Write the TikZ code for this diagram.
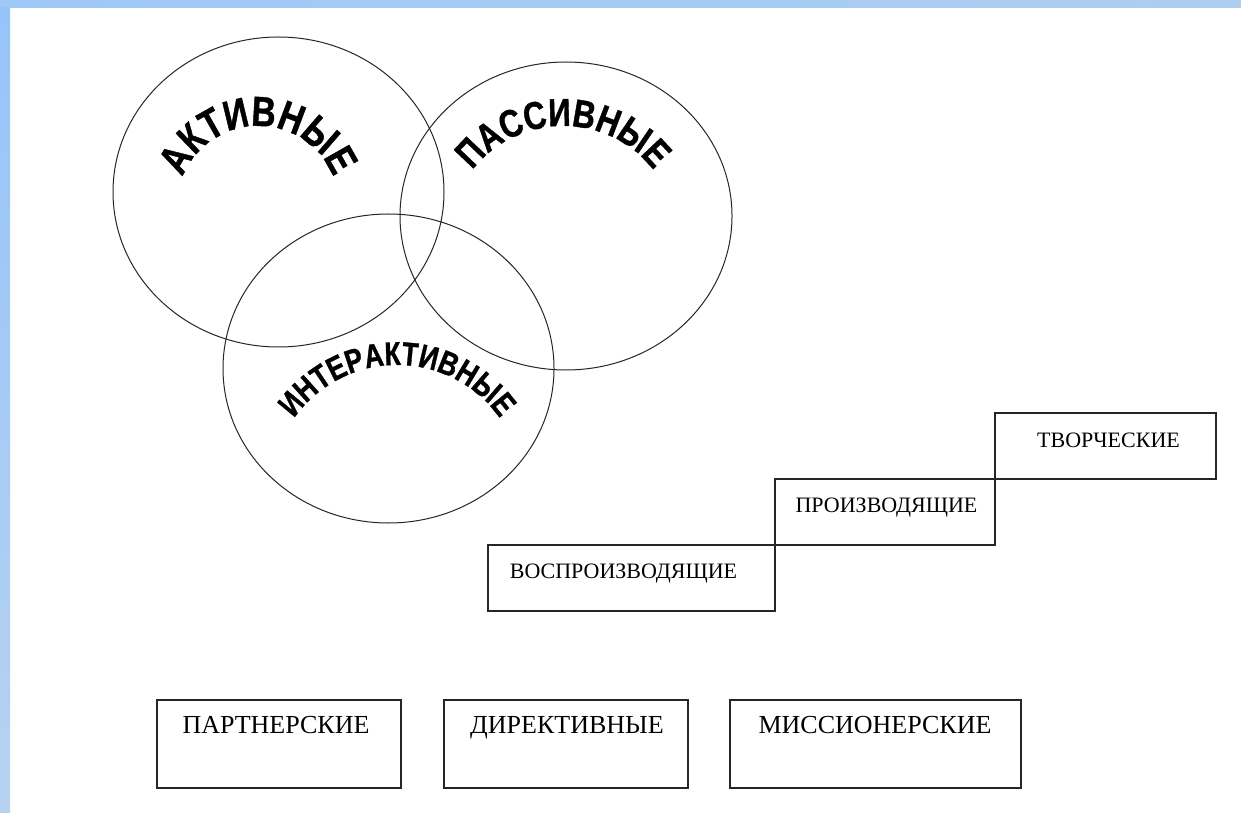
\documentclass[tikz,border=0pt]{standalone}
\usepackage{fontspec}
\setmainfont{Liberation Serif}
\newfontfamily\wordart[FakeStretch=0.8, BoldFeatures={FakeBold=1.0}]{Liberation Sans}
\usetikzlibrary{decorations.text,shapes.geometric}
\definecolor{bandL}{RGB}{158,200,247}
\definecolor{bandM}{RGB}{126,188,252}
\definecolor{bandR}{RGB}{172,206,240}
\definecolor{sideT}{RGB}{150,196,250}
\definecolor{sideB}{RGB}{182,210,240}
\begin{document}
\begin{tikzpicture}[x=1pt,y=1pt,
  ring/.style={ellipse, draw=black!85, line width=1pt, inner sep=0pt},
  box/.style={rectangle, draw=black!85, line width=1.3pt, inner sep=0pt},
  lbl/.style={font=\fontsize{22}{24}\selectfont, anchor=base, inner sep=0pt},
  blbl/.style={font=\fontsize{26}{28}\selectfont, anchor=base, inner sep=0pt}]
\useasboundingbox (0,0) rectangle (1241,812);
\fill[white] (0,0) rectangle (1241,812);
\shade[left color=bandL, middle color=bandM, right color=bandR] (0,804) rectangle (1241,812);
\shade[top color=sideT, bottom color=sideB] (0,0) rectangle (10,804);

% circles
\node[ring, minimum width=331pt, minimum height=310pt] (act) at (278.5,620) {};
\node[ring, minimum width=332pt, minimum height=308pt] (pas) at (566,596) {};
\node[ring, minimum width=331pt, minimum height=309pt] (int) at (388.5,443.5) {};

% arched labels
\path[decorate, decoration={text along path, text align=center,
  text={|\wordart\bfseries\fontsize{42}{44}\selectfont|АКТИВНЫЕ}}]
  (258,605) ++(178:81) arc[start angle=178, end angle=2, radius=81];
\path[decorate, decoration={text along path, text align=center,
  text={|\wordart\bfseries\fontsize{39}{41}\selectfont|ПАССИВНЫЕ}}]
  (563,571) ++(178:115) arc[start angle=178, end angle=2, radius=115];
\path[decorate, decoration={text along path, text align=center,
  text={|\wordart\bfseries\fontsize{33}{35}\selectfont|ИНТЕРАКТИВНЫЕ}}]
  (397,321) ++(178:126) arc[start angle=178, end angle=2, radius=126];

% staircase
\node[box, minimum width=287pt, minimum height=66pt] (s1) at (631.5,234) {};
\node[box, minimum width=220pt, minimum height=66pt] (s2) at (885,300) {};
\node[box, minimum width=221pt, minimum height=66pt] (s3) at (1105.5,366) {};
\node[lbl] (t1) at (623.5,234) {ВОСПРОИЗВОДЯЩИЕ};
\node[lbl] (t2) at (886.5,300) {ПРОИЗВОДЯЩИЕ};
\node[lbl] (t3) at (1108.5,365) {ТВОРЧЕСКИЕ};

% bottom boxes
\node[box, minimum width=244pt, minimum height=88pt] (b1) at (279,68) {};
\node[box, minimum width=244pt, minimum height=88pt] (b2) at (566,68) {};
\node[box, minimum width=291pt, minimum height=88pt] (b3) at (875.5,68) {};
\node[blbl] (u1) at (276,79) {ПАРТНЕРСКИЕ};
\node[blbl] (u2) at (567,79) {ДИРЕКТИВНЫЕ};
\node[blbl] (u3) at (875,79) {МИССИОНЕРСКИЕ};
\end{tikzpicture}
\end{document}
